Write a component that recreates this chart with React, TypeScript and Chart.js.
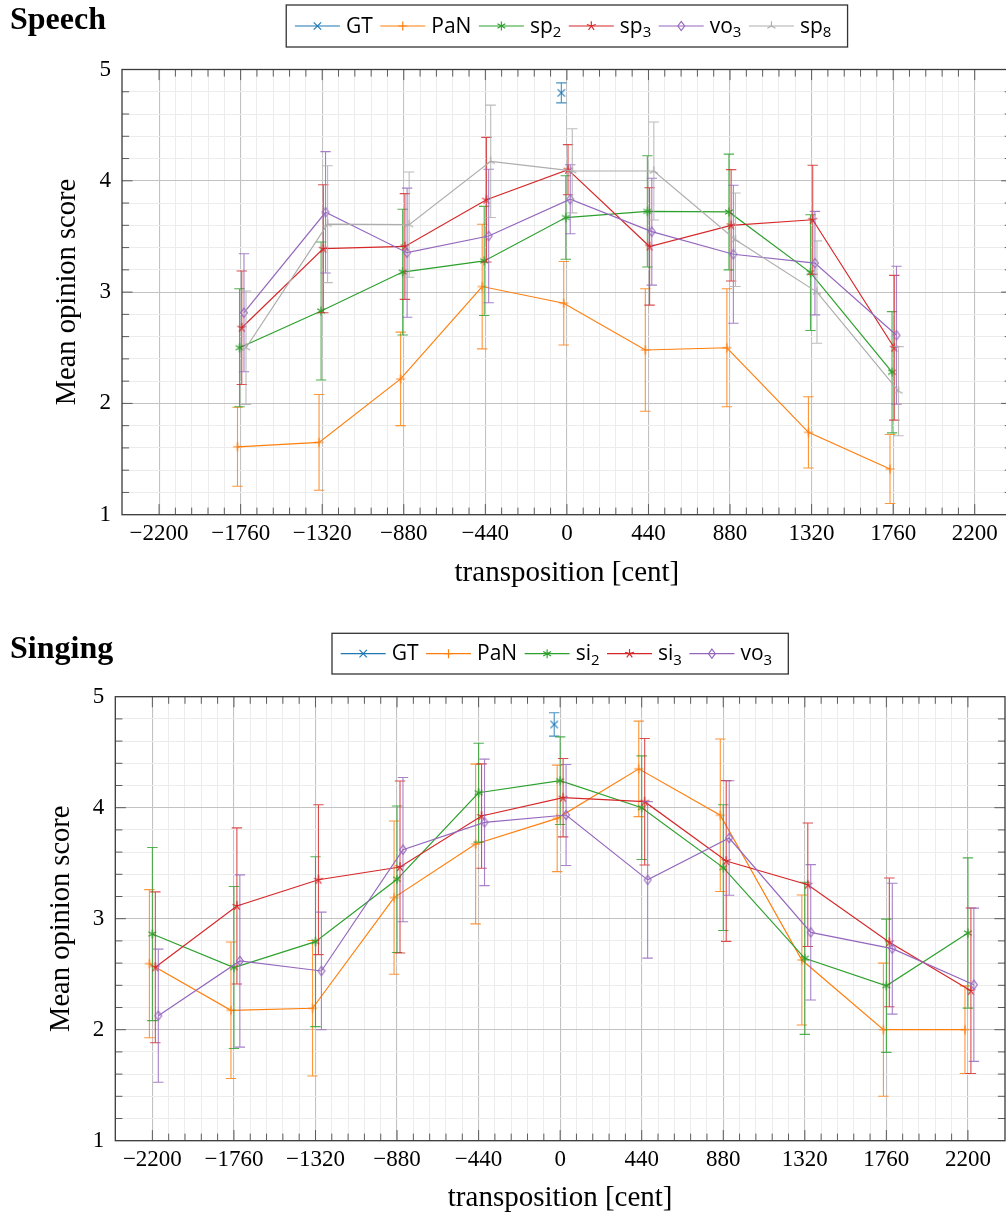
import React, { useEffect, useRef } from "react";
import { Chart, registerables } from "chart.js";

Chart.register(...registerables);

// ---------------- data ----------------
const X_MAJOR = [-2200, -1760, -1320, -880, -440, 0, 440, 880, 1320, 1760, 2200];
const Y_MAJOR = [1, 2, 3, 4, 5];

// Speech panel
const SPEECH_CATS = [-1760, -1320, -880, -440, 0, 440, 880, 1320, 1760];
const SPEECH_GT_X = [0];
const SPEECH_GT = [4.79];
const SPEECH_GT_ERR = [0.09];
const SPEECH_PAN = [1.61, 1.65, 2.22, 3.05, 2.9, 2.48, 2.5, 1.74, 1.41];
const SPEECH_PAN_ERR = [0.355, 0.43, 0.42, 0.56, 0.375, 0.55, 0.53, 0.32, 0.31];
const SPEECH_SP2 = [2.5, 2.83, 3.18, 3.28, 3.67, 3.725, 3.72, 3.175, 2.28];
const SPEECH_SP2_ERR = [0.53, 0.62, 0.565, 0.49, 0.375, 0.5, 0.52, 0.52, 0.545];
const SPEECH_SP3 = [2.68, 3.39, 3.41, 3.83, 4.1, 3.41, 3.6, 3.65, 2.5];
const SPEECH_SP3_ERR = [0.51, 0.575, 0.475, 0.56, 0.225, 0.527, 0.5, 0.49, 0.65];
const SPEECH_VO3 = [2.815, 3.717, 3.354, 3.504, 3.834, 3.543, 3.34, 3.26, 2.612];
const SPEECH_VO3_ERR = [0.53, 0.545, 0.58, 0.6, 0.31, 0.48, 0.62, 0.465, 0.62];
const SPEECH_SP8 = [2.5, 3.61, 3.606, 4.175, 4.09, 4.088, 3.47, 3.0, 2.11];
const SPEECH_SP8_ERR = [0.51, 0.525, 0.473, 0.505, 0.378, 0.44, 0.42, 0.46, 0.4];
// horizontal dodge of each series (cent)
const SPEECH_DODGE = [-30, -17, -6, 6, 18, 29];

// Singing panel
const SING_CATS = [-2200, -1760, -1320, -880, -440, 0, 440, 880, 1320, 1760, 2200];
const SING_GT_X = [0];
const SING_GT = [4.75];
const SING_GT_ERR = [0.105];
const SING_PAN = [2.595, 2.175, 2.193, 3.19, 3.673, 3.904, 4.35, 3.932, 2.628, 2.0, 2.0];
const SING_PAN_ERR = [0.667, 0.615, 0.61, 0.69, 0.72, 0.48, 0.43, 0.687, 0.585, 0.6, 0.395];
const SING_SI2 = [2.862, 2.56, 2.793, 3.355, 4.135, 4.243, 4.0, 3.46, 2.643, 2.396, 2.871];
const SING_SI2_ERR = [0.78, 0.73, 0.765, 0.66, 0.445, 0.395, 0.467, 0.566, 0.685, 0.6, 0.677];
const SING_SI3 = [2.562, 3.115, 3.351, 3.466, 3.925, 4.09, 4.054, 3.52, 3.306, 2.787, 2.351];
const SING_SI3_ERR = [0.68, 0.703, 0.675, 0.775, 0.47, 0.353, 0.57, 0.724, 0.556, 0.58, 0.746];
const SING_VO3 = [2.126, 2.619, 2.529, 3.622, 3.868, 3.934, 3.35, 3.727, 2.877, 2.73, 2.405];
const SING_VO3_ERR = [0.6, 0.776, 0.53, 0.65, 0.57, 0.455, 0.705, 0.516, 0.61, 0.59, 0.69];
const SING_DODGE = [-32, -16, 0, 16, 32];

// ---------------- styles ----------------
const C_BLUE = "#1f77b4";
const C_ORANGE = "#ff7f0e";
const C_GREEN = "#2ca02c";
const C_RED = "#d62728";
const C_PURPLE = "#9467bd";
const C_GRAY = "#adadad";

const SERIF = '"Liberation Serif", "Times New Roman", serif';
const SANS = '"Open Sans", "Noto Sans", sans-serif';

type MarkerKind = "x" | "plus" | "asterisk" | "star" | "diamond" | "mercedes";

interface Series {
  label: string;
  sub?: string;
  color: string;
  marker: MarkerKind;
  x: number[];
  y: number[];
  err: number[];
  dx: number;
}

function drawMarker(ctx: CanvasRenderingContext2D, kind: MarkerKind, cx: number, cy: number, color: string) {
  ctx.save();
  ctx.strokeStyle = color;
  ctx.lineWidth = 1.15;
  ctx.lineCap = "butt";
  ctx.beginPath();
  if (kind === "x") {
    const r = 3.7;
    ctx.moveTo(cx - r, cy - r);
    ctx.lineTo(cx + r, cy + r);
    ctx.moveTo(cx - r, cy + r);
    ctx.lineTo(cx + r, cy - r);
  } else if (kind === "plus") {
    const r = 4.5;
    ctx.moveTo(cx - r, cy);
    ctx.lineTo(cx + r, cy);
    ctx.moveTo(cx, cy - r);
    ctx.lineTo(cx, cy + r);
  } else if (kind === "asterisk") {
    const r = 4.5;
    for (const deg of [90, 30, 150]) {
      const a = (deg * Math.PI) / 180;
      ctx.moveTo(cx + r * Math.cos(a), cy - r * Math.sin(a));
      ctx.lineTo(cx - r * Math.cos(a), cy + r * Math.sin(a));
    }
  } else if (kind === "star") {
    const r = 4.7;
    for (let k = 0; k < 5; k++) {
      const a = ((90 + 72 * k) * Math.PI) / 180;
      ctx.moveTo(cx, cy);
      ctx.lineTo(cx + r * Math.cos(a), cy - r * Math.sin(a));
    }
  } else if (kind === "diamond") {
    const h = 4.6;
    const w = 3.4;
    ctx.moveTo(cx, cy - h);
    ctx.lineTo(cx + w, cy);
    ctx.lineTo(cx, cy + h);
    ctx.lineTo(cx - w, cy);
    ctx.closePath();
  } else if (kind === "mercedes") {
    const r = 4.7;
    for (const deg of [90, 210, 330]) {
      const a = (deg * Math.PI) / 180;
      ctx.moveTo(cx, cy);
      ctx.lineTo(cx + r * Math.cos(a), cy - r * Math.sin(a));
    }
  }
  ctx.stroke();
  ctx.restore();
}

function markerCanvas(kind: MarkerKind, color: string): HTMLCanvasElement {
  const c = document.createElement("canvas");
  c.width = 14;
  c.height = 14;
  const ctx = c.getContext("2d")!;
  drawMarker(ctx, kind, 7, 7, color);
  return c;
}

const isMajorX = (v: number) => X_MAJOR.some((m) => Math.abs(m - v) < 1e-6);
const isMajorY = (v: number) => Y_MAJOR.some((m) => Math.abs(m - v) < 1e-6);

function xTickValues(): number[] {
  const out: number[] = [];
  for (let i = 0; i < X_MAJOR.length - 1; i++) {
    const a = X_MAJOR[i];
    const b = X_MAJOR[i + 1];
    for (let k = 0; k < 5; k++) out.push(a + ((b - a) * k) / 5);
  }
  out.push(X_MAJOR[X_MAJOR.length - 1]);
  return out;
}
function yTickValues(): number[] {
  const out: number[] = [];
  for (let i = 0; i < Y_MAJOR.length - 1; i++) {
    const a = Y_MAJOR[i];
    const b = Y_MAJOR[i + 1];
    for (let k = 0; k < 5; k++) out.push(Math.round((a + ((b - a) * k) / 5) * 1000) / 1000);
  }
  out.push(Y_MAJOR[Y_MAJOR.length - 1]);
  return out;
}

const fmtNum = (v: number) => (v < 0 ? "\u2212" + String(Math.abs(v)) : String(v));

interface Panel {
  series: Series[];
  width: number;
  height: number;
  padTop: number;
  padRight: number;
  yWidth: number;
  xHeight: number;
  yTitlePad: number;
  xTitlePad: number;
  legendTop: number;
  legendH: number;
}

const errorBarsPlugin = {
  id: "errorBars",
  beforeDatasetDraw(chart: any, args: any) {
    const ds = chart.data.datasets[args.index];
    const meta = args.meta;
    const ys = chart.scales.y;
    const ctx = chart.ctx;
    ctx.save();
    ctx.globalAlpha = 0.82;
    ctx.strokeStyle = ds.borderColor;
    ctx.lineWidth = 1.1;
    meta.data.forEach((pt: any, i: number) => {
      const v = ds.data[i].y;
      const e = ds.errors[i];
      const x = pt.x;
      const y1 = ys.getPixelForValue(v + e);
      const y2 = ys.getPixelForValue(v - e);
      ctx.beginPath();
      ctx.moveTo(x, y1);
      ctx.lineTo(x, y2);
      ctx.moveTo(x - 5.2, y1);
      ctx.lineTo(x + 5.2, y1);
      ctx.moveTo(x - 5.2, y2);
      ctx.lineTo(x + 5.2, y2);
      ctx.stroke();
    });
    ctx.restore();
  },
};

const framePlugin = {
  id: "frameTicks",
  beforeDatasetsDraw(chart: any) {
    const { ctx, chartArea: a, scales } = chart;
    const xs = scales.x;
    const ys = scales.y;
    ctx.save();
    ctx.strokeStyle = "#5c5c5c";
    ctx.lineWidth = 1;
    ctx.beginPath();
    xs.ticks.forEach((t: any) => {
      const px = xs.getPixelForValue(t.value);
      if (px <= a.left + 0.5 || px >= a.right - 0.5) return;
      const L = isMajorX(t.value) ? 10.6 : 7.1;
      ctx.moveTo(px, a.bottom);
      ctx.lineTo(px, a.bottom - L);
      ctx.moveTo(px, a.top);
      ctx.lineTo(px, a.top + L);
    });
    ys.ticks.forEach((t: any) => {
      const py = ys.getPixelForValue(t.value);
      if (py <= a.top + 0.5 || py >= a.bottom - 0.5) return;
      const L = isMajorY(t.value) ? 10.6 : 7.1;
      ctx.moveTo(a.left, py);
      ctx.lineTo(a.left + L, py);
      ctx.moveTo(a.right, py);
      ctx.lineTo(a.right - L, py);
    });
    ctx.stroke();
    ctx.strokeStyle = "#3a3a3a";
    ctx.lineWidth = 1.3;
    ctx.strokeRect(a.left, a.top, a.right - a.left, a.bottom - a.top);
    ctx.restore();
  },
};

function makeLegendPlugin(series: Series[], boxTop: number, boxH: number) {
  return {
    id: "panelLegend",
    afterDraw(chart: any) {
      const ctx: CanvasRenderingContext2D = chart.ctx;
      const a = chart.chartArea;
      const cx = (a.left + a.right) / 2;
      const mainFont = `21px ${SANS}`;
      const subFont = `15px ${SANS}`;
      ctx.save();
      const widths = series.map((s) => {
        ctx.font = mainFont;
        let w = ctx.measureText(s.label).width;
        if (s.sub) {
          ctx.font = subFont;
          w += ctx.measureText(s.sub).width;
        }
        return w;
      });
      const PAD = 8.7;
      const LINE = 45;
      const GAP = 6;
      const SEP = 7.5;
      const total = PAD * 2 + widths.reduce((acc, w) => acc + LINE + GAP + w + SEP, 0);
      const left = cx - total / 2;
      ctx.fillStyle = "#ffffff";
      ctx.fillRect(left, boxTop, total, boxH);
      ctx.strokeStyle = "#333333";
      ctx.lineWidth = 1.3;
      ctx.strokeRect(left, boxTop, total, boxH);
      let x = left + PAD;
      const cy = boxTop + boxH / 2;
      const base = cy + 6.8;
      series.forEach((s, i) => {
        ctx.strokeStyle = s.color;
        ctx.lineWidth = 1.2;
        ctx.beginPath();
        ctx.moveTo(x, cy);
        ctx.lineTo(x + LINE, cy);
        ctx.stroke();
        drawMarker(ctx, s.marker, x + LINE / 2, cy, s.color);
        x += LINE + GAP;
        ctx.fillStyle = "#000000";
        ctx.textAlign = "left";
        ctx.textBaseline = "alphabetic";
        ctx.font = mainFont;
        ctx.fillText(s.label, x, base);
        const w = ctx.measureText(s.label).width;
        if (s.sub) {
          ctx.font = subFont;
          ctx.fillText(s.sub, x + w, base + 4.5);
        }
        x += widths[i] + SEP;
      });
      ctx.restore();
    },
  };
}

function buildConfig(p: Panel): any {
  const xTicks = xTickValues();
  const yTicks = yTickValues();
  return {
    type: "line",
    data: {
      datasets: p.series.map((s, i) => ({
        label: s.label + (s.sub || ""),
        data: s.x.map((xv, j) => ({ x: xv + s.dx, y: s.y[j] })),
        errors: s.err,
        borderColor: s.color,
        backgroundColor: s.color,
        borderWidth: 1.2,
        pointStyle: markerCanvas(s.marker, s.color),
        pointRadius: 4,
        showLine: s.x.length > 1,
        tension: 0,
        fill: false,
        order: -i,
        clip: false,
      })),
    },
    options: {
      animation: false,
      responsive: false,
      events: [],
      layout: { padding: { left: 0, top: p.padTop, right: p.padRight, bottom: 0 } },
      plugins: {
        legend: { display: false },
        tooltip: { enabled: false },
        title: { display: false },
      },
      scales: {
        x: {
          type: "linear",
          min: -2400,
          max: 2400,
          afterBuildTicks: (scale: any) => {
            scale.ticks = xTicks.map((v) => ({ value: v }));
          },
          afterFit: (scale: any) => {
            scale.height = p.xHeight;
          },
          border: { display: false },
          grid: {
            drawTicks: false,
            color: (c: any) => (c.tick && isMajorX(c.tick.value) ? "#c2c2c2" : "#ececec"),
            lineWidth: (c: any) => (c.tick && isMajorX(c.tick.value) ? 1.1 : 1),
          },
          ticks: {
            autoSkip: false,
            maxRotation: 0,
            minRotation: 0,
            padding: 5.5,
            color: "#000",
            font: { family: SERIF, size: 23 },
            callback: (v: any) => (isMajorX(Number(v)) ? fmtNum(Number(v)) : ""),
          },
          title: {
            display: true,
            text: "transposition [cent]",
            color: "#000",
            font: { family: SERIF, size: 29, lineHeight: 1.2 },
            padding: { top: 0, bottom: p.xTitlePad },
          },
        },
        y: {
          type: "linear",
          min: 1,
          max: 5,
          afterBuildTicks: (scale: any) => {
            scale.ticks = yTicks.map((v) => ({ value: v }));
          },
          afterFit: (scale: any) => {
            scale.width = p.yWidth;
          },
          border: { display: false },
          grid: {
            drawTicks: false,
            color: (c: any) => (c.tick && isMajorY(c.tick.value) ? "#c2c2c2" : "#ececec"),
            lineWidth: (c: any) => (c.tick && isMajorY(c.tick.value) ? 1.1 : 1),
          },
          ticks: {
            autoSkip: false,
            padding: 11,
            color: "#000",
            font: { family: SERIF, size: 23 },
            callback: (v: any) => (isMajorY(Number(v)) ? String(Math.round(Number(v))) : ""),
          },
          title: {
            display: true,
            text: "Mean opinion score",
            color: "#000",
            font: { family: SERIF, size: 28.5, lineHeight: 1.2 },
            padding: { top: p.yTitlePad, bottom: 0 },
          },
        },
      },
    },
    plugins: [errorBarsPlugin, framePlugin, makeLegendPlugin(p.series, p.legendTop, p.legendH)],
  };
}

const speechSeries: Series[] = [
  { label: "GT", color: C_BLUE, marker: "x", x: SPEECH_GT_X, y: SPEECH_GT, err: SPEECH_GT_ERR, dx: SPEECH_DODGE[0] },
  { label: "PaN", color: C_ORANGE, marker: "plus", x: SPEECH_CATS, y: SPEECH_PAN, err: SPEECH_PAN_ERR, dx: SPEECH_DODGE[1] },
  { label: "sp", sub: "2", color: C_GREEN, marker: "asterisk", x: SPEECH_CATS, y: SPEECH_SP2, err: SPEECH_SP2_ERR, dx: SPEECH_DODGE[2] },
  { label: "sp", sub: "3", color: C_RED, marker: "star", x: SPEECH_CATS, y: SPEECH_SP3, err: SPEECH_SP3_ERR, dx: SPEECH_DODGE[3] },
  { label: "vo", sub: "3", color: C_PURPLE, marker: "diamond", x: SPEECH_CATS, y: SPEECH_VO3, err: SPEECH_VO3_ERR, dx: SPEECH_DODGE[4] },
  { label: "sp", sub: "8", color: C_GRAY, marker: "mercedes", x: SPEECH_CATS, y: SPEECH_SP8, err: SPEECH_SP8_ERR, dx: SPEECH_DODGE[5] },
];

const singSeries: Series[] = [
  { label: "GT", color: C_BLUE, marker: "x", x: SING_GT_X, y: SING_GT, err: SING_GT_ERR, dx: SING_DODGE[0] },
  { label: "PaN", color: C_ORANGE, marker: "plus", x: SING_CATS, y: SING_PAN, err: SING_PAN_ERR, dx: SING_DODGE[1] },
  { label: "si", sub: "2", color: C_GREEN, marker: "asterisk", x: SING_CATS, y: SING_SI2, err: SING_SI2_ERR, dx: SING_DODGE[2] },
  { label: "si", sub: "3", color: C_RED, marker: "star", x: SING_CATS, y: SING_SI3, err: SING_SI3_ERR, dx: SING_DODGE[3] },
  { label: "vo", sub: "3", color: C_PURPLE, marker: "diamond", x: SING_CATS, y: SING_VO3, err: SING_VO3_ERR, dx: SING_DODGE[4] },
];

const SPEECH_PANEL: Panel = {
  series: speechSeries,
  width: 1030,
  height: 600,
  padTop: 69.5,
  padRight: 1030 - 1011.8,
  yWidth: 122,
  xHeight: 600 - 514.7,
  yTitlePad: 50.9,
  xTitlePad: 8.9,
  legendTop: 5,
  legendH: 42,
};

const SING_PANEL: Panel = {
  series: singSeries,
  width: 1030,
  height: 615,
  padTop: 96.7,
  padRight: 1030 - 1005,
  yWidth: 115.3,
  xHeight: 615 - 540.7,
  yTitlePad: 44.9,
  xTitlePad: -0.8,
  legendTop: 33.3,
  legendH: 40.7,
};

const titleStyle = (top: number): React.CSSProperties => ({
  position: "absolute",
  left: 10,
  top,
  margin: 0,
  fontFamily: SERIF,
  fontWeight: 700,
  fontSize: 32,
  lineHeight: "32px",
  color: "#000",
  whiteSpace: "nowrap",
});

export default function App() {
  const speechRef = useRef<HTMLCanvasElement | null>(null);
  const singRef = useRef<HTMLCanvasElement | null>(null);

  useEffect(() => {
    const charts: Chart[] = [];
    if (speechRef.current) charts.push(new Chart(speechRef.current, buildConfig(SPEECH_PANEL)));
    if (singRef.current) charts.push(new Chart(singRef.current, buildConfig(SING_PANEL)));
    return () => charts.forEach((c) => c.destroy());
  }, []);

  return (
    <div
      style={{
        position: "absolute",
        left: 0,
        top: 0,
        width: 1006,
        height: 1215,
        overflow: "hidden",
        background: "#ffffff",
      }}
    >
      <canvas
        ref={speechRef}
        width={SPEECH_PANEL.width}
        height={SPEECH_PANEL.height}
        style={{ position: "absolute", left: 0, top: 0 }}
      />
      <canvas
        ref={singRef}
        width={SING_PANEL.width}
        height={SING_PANEL.height}
        style={{ position: "absolute", left: 0, top: 600 }}
      />
      <div style={titleStyle(1.5)}>Speech</div>
      <div style={titleStyle(630.9)}>Singing</div>
    </div>
  );
}
